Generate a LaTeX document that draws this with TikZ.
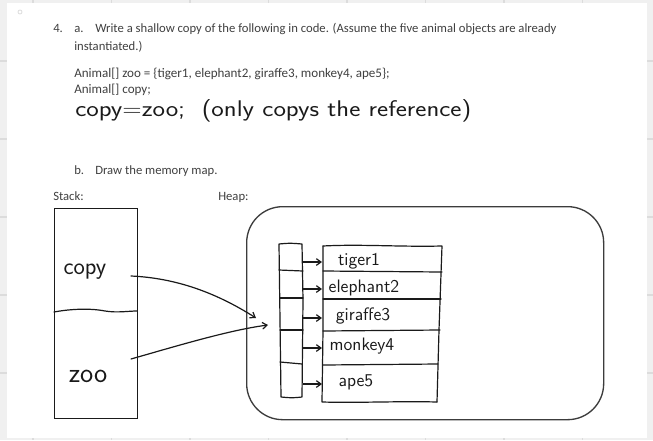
\documentclass[tikz,border=0pt]{standalone}
\usepackage{fontspec}
\setmainfont{Carlito}
\usetikzlibrary{arrows.meta}
\definecolor{pagegray}{HTML}{F0F0F0}
\definecolor{gridgray}{HTML}{DCDCDC}
\definecolor{txt}{HTML}{404040}
\definecolor{ink}{HTML}{1A1A1A}
\tikzset{
  typed/.style={anchor=base west, inner sep=0pt, text=txt, font=\fontsize{9.5pt}{11pt}\selectfont},
  hand/.style={inner sep=0pt, text=ink, font=\sffamily\fontsize{18pt}{20pt}\selectfont},
  handsmall/.style={inner sep=0pt, text=ink, font=\sffamily\fontsize{13.5pt}{15pt}\selectfont},
  stroke/.style={draw=ink, line width=0.9pt, line cap=round, line join=round},
  ptr/.style={stroke, -{Straight Barb[length=3.5pt,width=5pt]}},
  cell/.style={inner sep=0pt, minimum width=0pt, minimum height=0pt},
}
\begin{document}
\begin{tikzpicture}[x=0.75pt,y=-0.75pt]
\useasboundingbox (0,0) rectangle (653,440);
% page background
\fill[pagegray] (0,0) rectangle (653,440);
\foreach \gx in {33,111.5,190,268.5,347,425.5,504,582.5}{
  \draw[gridgray, line width=0.8pt] (\gx,0) -- (\gx,3);
  \draw[gridgray, line width=0.8pt] (\gx,438) -- (\gx,440);
}
\foreach \gy in {61,139,217,295,373}{
  \draw[gridgray, line width=0.8pt] (0,\gy) -- (7,\gy);
  \draw[gridgray, line width=0.8pt] (647,\gy) -- (653,\gy);
}
\fill[white] (7,3) rectangle (647,438);
\draw[gridgray, line width=0.6pt] (20,12) circle (2);

% typed text
\node[typed] (n4) at (53,32) {4.};
\node[typed] (na) at (74,32) {a.};
\node[typed] (q1) at (95,32) {Write a shallow copy of the following in code. (Assume the five animal objects are already};
\node[typed] (q2) at (74,50) {instantiated.)};
\node[typed, font=\fontsize{9.8pt}{11pt}\selectfont] (c1) at (74,77) {Animal[] zoo = \{tiger1, elephant2, giraffe3, monkey4, ape5\};};
\node[typed, font=\fontsize{9.8pt}{11pt}\selectfont] (c2) at (74,93) {Animal[] copy;};
\node[hand, anchor=west, font=\sffamily\fontsize{17pt}{19pt}\selectfont] (ans) at (75,111) {\scalebox{1.17}[1]{copy=zoo;\ \ (only copys the reference)}};
\node[typed] (nb) at (74,174) {b.};
\node[typed] (q3) at (95,174) {Draw the memory map.};
\node[typed] (lstack) at (53,200) {Stack:};
\node[typed] (lheap) at (218,200) {Heap:};

% stack
\node[draw=ink, line width=1.1pt, cell, minimum width=62.25pt, minimum height=157.5pt, anchor=north west] (stack) at (54,208) {};
\draw[stroke] (54,312) .. controls (70,309) and (90,308) .. (105,311) .. controls (118,313) and (128,311) .. (137,311);
\node[hand] (vcopy) at (85,272) {copy};
\node[hand, font=\sffamily\fontsize{21pt}{23pt}\selectfont] (vzoo) at (88,376) {zoo};

% heap
\node[draw=ink!85, line width=1.0pt, rounded corners=27pt, cell, minimum width=267.75pt, minimum height=159.75pt, anchor=north west] (heap) at (246,206) {};

% pointer array
\node[cell, minimum width=18.75pt, minimum height=19.5pt, anchor=north west] (p1) at (279,244) {};
\node[cell, minimum width=18.75pt, minimum height=21pt, anchor=north west] (p2) at (279,270) {};
\node[cell, minimum width=18.75pt, minimum height=24pt, anchor=north west] (p3) at (279,298) {};
\node[cell, minimum width=18.75pt, minimum height=24.75pt, anchor=north west] (p4) at (279,330) {};
\node[cell, minimum width=18.75pt, minimum height=25.5pt, anchor=north west] (p5) at (279,363) {};
\draw[stroke] (279,244) .. controls (290,243) .. (302,244) -- (303,300) -- (302,397) .. controls (292,398) .. (281,397) -- (280,320) -- (279,244);
\draw[stroke] (279,270) -- (303,271);
\draw[stroke] (280,298) -- (303,298);
\draw[stroke] (280,330) -- (303,330);
\draw[stroke] (280,362) -- (302,364);

% object table
\node[cell, minimum width=87pt, minimum height=20pt, anchor=north west] (o1) at (324,245) {};
\node[cell, minimum width=87pt, minimum height=20pt, anchor=north west] (o2) at (324,272) {};
\node[cell, minimum width=87pt, minimum height=23pt, anchor=north west] (o3) at (324,300) {};
\node[cell, minimum width=87pt, minimum height=25pt, anchor=north west] (o4) at (324,331) {};
\node[cell, minimum width=87pt, minimum height=28pt, anchor=north west] (o5) at (324,365) {};
\draw[stroke] (323,246) .. controls (360,244) and (400,247) .. (442,246) -- (439,330) -- (437,402);
\draw[stroke] (323,246) -- (323,330) -- (322,402) .. controls (360,403) and (400,401) .. (437,402);
\draw[stroke] (323,271) -- (442,272);
\draw[stroke] (323,299) -- (441,299);
\draw[stroke] (323,331) -- (440,330);
\draw[stroke] (323,365) -- (438,364);
\node[handsmall] (t1) at (359,261) {tiger1};
\node[handsmall] (t2) at (364,288) {elephant2};
\node[handsmall] (t3) at (363,316) {giraffe3};
\node[handsmall] (t4) at (362,346) {monkey4};
\node[handsmall] (t5) at (356,382) {ape5};

% element pointers
\foreach \i/\yy in {1/262,2/289,3/318,4/348,5/384}{
  \draw[ptr] (303,\yy) -- (322,\yy);
}

% stack-to-heap references
\coordinate (copyend) at (256,318);
\coordinate (zooend) at (268,325);
\draw[ptr] (131,276) .. controls (175,278) and (215,292) .. (copyend);
\draw[ptr] (131,359) .. controls (180,345) and (230,330) .. (zooend);
\end{tikzpicture}
\end{document}
